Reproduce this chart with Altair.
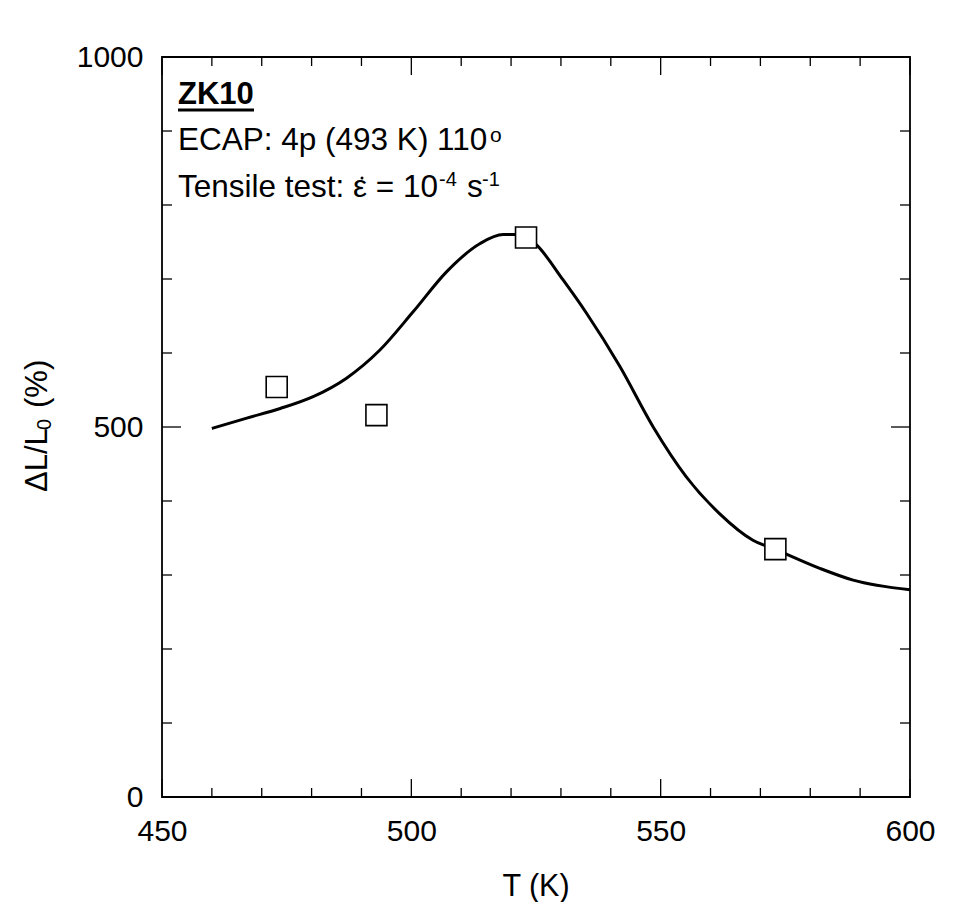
import altair as alt
import pandas as pd

# ---------------- data ----------------
T_points = [473.0, 493.0, 523.0, 573.0]
E_points = [554, 516, 756, 335]

T_curve = [460, 467, 473.7, 480.3, 487, 493.7, 500.4, 507.1, 513.8, 518.4, 520.8,
           523, 525.1, 530.4, 535.1, 541.8, 548.5, 555.1, 561.8, 568.5, 573.2,
           581.9, 588.6, 600]
E_curve = [498, 512, 525, 541, 566, 604, 656, 710, 748, 760, 760,
           757, 746, 699, 654, 582, 500, 433, 383, 347, 334,
           309, 293, 280]

x_major = [450, 500, 550, 600]
x_minor = [460, 470, 480, 490, 510, 520, 530, 540, 560, 570, 580, 590]
y_major = [0, 500, 1000]
y_minor = [100, 200, 300, 400, 600, 700, 800, 900]

x_title = "T (K)"
y_title_parts = ["ΔL/L", "0", "(%)"]
ann_title = "ZK10"
ann_line1 = "ECAP: 4p (493 K) 110"
ann_line1_sup = "o"
ann_line2 = "Tensile test: ε = 10"
ann_line2_sup1 = "-4"
ann_line2_s = "s"
ann_line2_sup2 = "-1"

W, H = 748, 740
FONT = "Liberation Sans"

# ---------------- scales / axes ----------------
xs = alt.Scale(domain=[450, 600], nice=False, zero=False)
ys = alt.Scale(domain=[0, 1000], nice=False, zero=False)
xaxis = alt.Axis(values=x_major, title=None, grid=False, domain=False, ticks=False,
                 tickSize=0, labelPadding=19, labelFontSize=30, labelFont=FONT,
                 labelColor="black", labelFlush=False, labelOverlap=False, format="d")
yaxis = alt.Axis(values=y_major, title=None, grid=False, domain=False, ticks=False,
                 tickSize=0, labelPadding=19, labelFontSize=30, labelFont=FONT,
                 labelColor="black", labelFlush=False, labelOverlap=False, format="d")

X = lambda: alt.X("T:Q", scale=xs, axis=xaxis)
Y = lambda: alt.Y("E:Q", scale=ys, axis=yaxis)

curve_df = pd.DataFrame({"T": T_curve, "E": E_curve})
pts_df = pd.DataFrame({"T": T_points, "E": E_points})

line = alt.Chart(curve_df).mark_line(color="black", strokeWidth=3, interpolate="monotone").encode(
    x=X(), y=Y())
points = alt.Chart(pts_df).mark_point(shape="square", size=441, filled=False, fill="white",
                                      fillOpacity=1, stroke="black", strokeWidth=1.6,
                                      opacity=1).encode(x=X(), y=Y())

TICK_C = "black"
TW = 1.3
def xticks(vals, length):
    df = pd.DataFrame({"T": vals})
    bottom = alt.Chart(df).mark_rule(color=TICK_C, strokeWidth=TW).encode(
        x=X(), y=alt.value(H), y2=alt.value(H - length))
    top = alt.Chart(df).mark_rule(color=TICK_C, strokeWidth=TW).encode(
        x=X(), y=alt.value(0), y2=alt.value(length))
    return [bottom, top]

def yticks(vals, length):
    df = pd.DataFrame({"E": vals})
    left = alt.Chart(df).mark_rule(color=TICK_C, strokeWidth=TW).encode(
        y=Y(), x=alt.value(0), x2=alt.value(length))
    right = alt.Chart(df).mark_rule(color=TICK_C, strokeWidth=TW).encode(
        y=Y(), x=alt.value(W), x2=alt.value(W - length))
    return [left, right]

ticks = xticks(x_major, 18) + xticks(x_minor, 9) + yticks(y_major, 19) + yticks(y_minor, 10)

def txt(s, x, y, size=31.5, bold=False, align="left", angle=None):
    kw = dict(font=FONT, fontSize=size, color="black", align=align, baseline="alphabetic",
              fontWeight="bold" if bold else "normal")
    if angle is not None:
        kw["angle"] = angle
    return alt.Chart(pd.DataFrame({"s": [s]})).mark_text(**kw).encode(
        text="s:N", x=alt.value(x), y=alt.value(y))

# dot over epsilon (time-derivative accent)
eps_dot = alt.Chart(pd.DataFrame({"a": [0]})).mark_point(
    shape="circle", filled=True, color="black", size=9, opacity=1).encode(
    x=alt.value(200), y=alt.value(121))

annotations = [
    txt(ann_title, 16, 47, size=31, bold=True),
    alt.Chart(pd.DataFrame({"a": [0]})).mark_rule(color="black", strokeWidth=3).encode(
        x=alt.value(16), x2=alt.value(92), y=alt.value(53)),
    txt(ann_line1, 16, 93),
    txt(ann_line1_sup, 328, 85, size=21),
    txt(ann_line2, 16, 140),
    eps_dot,
    txt(ann_line2_sup1, 277, 129, size=20),
    txt(ann_line2_s, 305, 140),
    txt(ann_line2_sup2, 320, 129, size=20),
    txt(x_title, W / 2, 839, size=30.5, align="center"),
    txt(y_title_parts[0], -115, 435, size=31, angle=270),
    txt(y_title_parts[1], -111, 373, size=20, angle=270),
    txt(y_title_parts[2], -115, 351, size=31, angle=270),
]

chart = alt.layer(line, *ticks, points, *annotations).properties(
    width=W, height=H,
    background="white",
    autosize=alt.AutoSizeParams(type="none"),
    padding={"left": 154, "top": 49, "right": 45, "bottom": 105},
).configure_view(stroke="black", strokeWidth=1.8)

chart.save("out.html", embed_options={"renderer": "svg", "actions": False})
